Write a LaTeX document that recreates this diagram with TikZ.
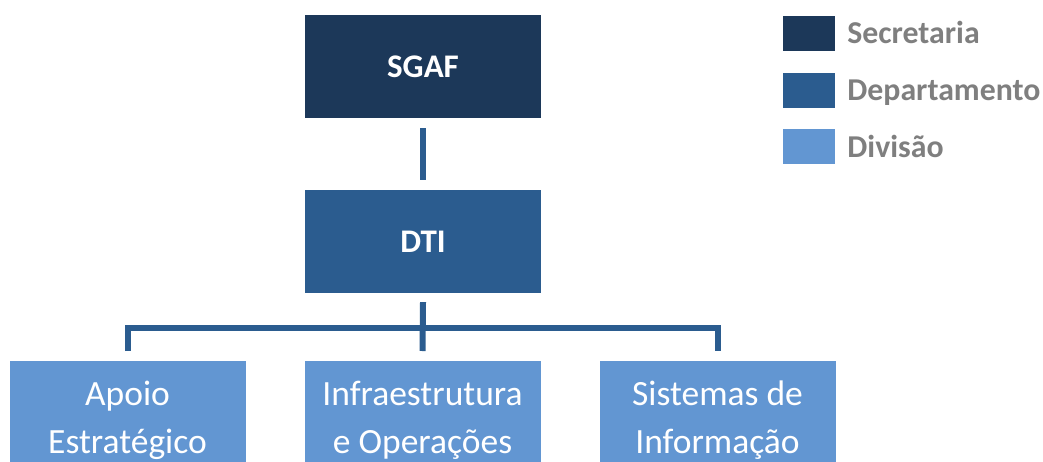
\documentclass[tikz,border=0pt]{standalone}
\usepackage{fontspec}
\setmainfont{Carlito}
\definecolor{secr}{HTML}{1C3859}
\definecolor{dept}{HTML}{2B5C8F}
\definecolor{divi}{HTML}{6296D2}
\definecolor{legg}{HTML}{7F7F7F}
\begin{document}
\begin{tikzpicture}[x=1pt,y=-1pt,
  box/.style={rectangle, inner sep=0pt, minimum width=236pt, text=white, align=center},
  topbox/.style={box, minimum height=103pt, font=\fontsize{33}{40}\selectfont\bfseries},
  divbox/.style={box, fill=divi, minimum height=118pt, font=\fontsize{35.5}{48}\selectfont},
  conn/.style={draw=dept, line width=6pt, line join=miter},
  legsq/.style={rectangle, inner sep=0pt, minimum width=52pt, minimum height=35pt},
  legtext/.style={inner sep=0pt, text=legg, font=\fontsize{31.8}{36}\selectfont\bfseries, anchor=base west}
]
\useasboundingbox (0,0) rectangle (1043,461);
\begin{scope}
\clip (0,0) rectangle (1043,461);
\node[topbox, fill=secr] (sgaf) at (423,66.5) {SGAF};
\node[topbox, fill=dept] (dti) at (423,241.5) {DTI};
\node[divbox] (apoio) at (127.5,420) {Apoio\\Estratégico};
\node[divbox] (infra) at (422.5,420) {Infraestrutura\\e Operações};
\node[divbox] (sist) at (717.5,420) {Sistemas de\\Informação};
\coordinate (bus) at (423,328);

\draw[conn] ([yshift=-10pt]sgaf.south) -- ([yshift=10pt]dti.north);
\draw[conn] ([yshift=-9pt]dti.south) -- ([yshift=10pt]infra.north |- 0,361);
\draw[conn] ([yshift=10pt]apoio.north |- 0,361) -- (apoio.north |- bus) -- (sist.north |- bus) -- ([yshift=10pt]sist.north |- 0,361);

\node[legsq, fill=secr] (l1) at (809,33) {};
\node[legsq, fill=dept] (l2) at (809,90) {};
\node[legsq, fill=divi] (l3) at (809,146.5) {};
\node[legtext] (t1) at ([xshift=12pt,yshift=-10.5pt]l1.east) {Secretaria};
\node[legtext] (t2) at ([xshift=12pt,yshift=-10.5pt]l2.east) {Departamento};
\node[legtext] (t3) at ([xshift=12pt,yshift=-10.5pt]l3.east) {Divisão};
\end{scope}
\end{tikzpicture}
\end{document}
